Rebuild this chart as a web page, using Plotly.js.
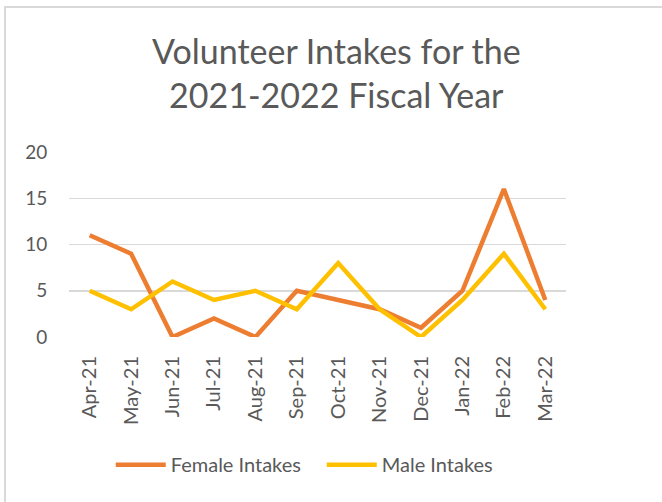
<!DOCTYPE html>
<html>
<head>
<meta charset="utf-8">
<script src="https://cdn.plot.ly/plotly-3.0.1.min.js"></script>
<style>
html,body{margin:0;padding:0;background:#fff;overflow:hidden;}
#chart{width:662px;height:502px;}
#frame{position:absolute;left:4px;top:6px;width:720px;height:560px;border:2px solid #d9d9d9;pointer-events:none;}
</style>
</head>
<body>
<div id="chart"></div>
<div id="frame"></div>
<script>
const months = ["Apr-21","May-21","Jun-21","Jul-21","Aug-21","Sep-21","Oct-21","Nov-21","Dec-21","Jan-22","Feb-22","Mar-22"];
const female = [11, 9, 0, 2, 0, 5, 4, 3, 1, 5, 16, 4];
const male = [5, 3, 6, 4, 5, 3, 8, 3, 0, 4, 9, 3];
const yTicks = [0, 5, 10, 15, 20];

const FONT = "Lato, 'Open Sans', sans-serif";
const traces = [
  {x: months, y: female, type: "scatter", mode: "lines", name: "Female Intakes",
   line: {color: "#ED7D31", width: 4.5}},
  {x: months, y: male, type: "scatter", mode: "lines", name: "Male Intakes",
   line: {color: "#FFC000", width: 4.5}}
];
const layout = {
  width: 662, height: 502,
  margin: {l: 69, r: 96, t: 152, b: 165},
  paper_bgcolor: "#fff", plot_bgcolor: "#fff",
  font: {family: FONT, color: "#595959"},
  title: {text: "Volunteer Intakes for the<br>2021-2022 Fiscal Year",
          font: {size: 34, color: "#595959", family: FONT},
          x: 0.508, xanchor: "center", y: 1 - 64/502, yanchor: "middle"},
  xaxis: {type: "category", range: [-0.5, 11.5], tickangle: -90,
          tickfont: {size: 20, color: "#595959"}, showgrid: false, zeroline: false,
          showline: false, ticks: "outside", ticklen: 10, tickcolor: "rgba(0,0,0,0)", automargin: false},
  yaxis: {range: [0, 20], tickvals: yTicks, ticktext: yTicks.map(String),
          tickfont: {size: 19, color: "#595959"}, gridcolor: "#d9d9d9", gridwidth: 1.5,
          zeroline: false, showline: false, ticks: "outside", ticklen: 17, tickcolor: "rgba(0,0,0,0)",
          automargin: false},
  showlegend: true,
  legend: {orientation: "h", x: 0.084, xanchor: "left", y: -0.69, yanchor: "middle",
           font: {size: 20, color: "#595959"}, itemwidth: 50, tracegroupgap: 0,
           entrywidth: 146, entrywidthmode: "pixels"},
};
Plotly.newPlot("chart", traces, layout, {displayModeBar: false, staticPlot: true});
</script>
</body>
</html>
